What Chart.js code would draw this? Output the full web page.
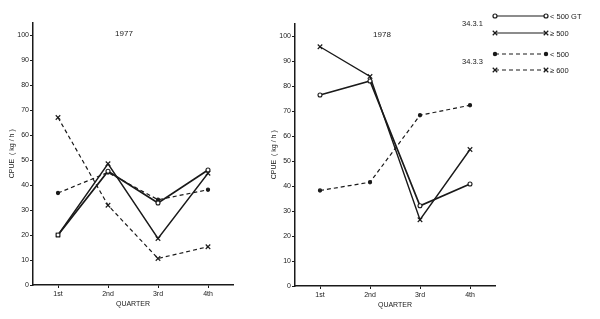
<!DOCTYPE html>
<html>
<head>
<meta charset="utf-8">
<script src="https://cdn.jsdelivr.net/npm/chart.js@4.4.1/dist/chart.umd.min.js"></script>
<style>
    html, body { margin: 0; padding: 0; background: #fff; }
    #wrap { position: relative; width: 600px; height: 319px; background: #fff; overflow: hidden; }
    #c77 { position: absolute; left: 0; top: 0; width: 250px; height: 319px; }
    #c78 { position: absolute; left: 262px; top: 0; width: 338px; height: 319px; }
</style>
</head>
<body>
<div id="wrap">
    <canvas id="c77" width="250" height="319"></canvas>
    <canvas id="c78" width="338" height="319"></canvas>
</div>
<script>
// 数据
const quarters = ['1st', '2nd', '3rd', '4th'];
const yTicks = [0, 10, 20, 30, 40, 50, 60, 70, 80, 90, 100];

// 1977
const div31Small77 = [20, 45.5, 32.8, 46];      // 34.3.1  < 500 GT
const div31Large77 = [20, 48.5, 18.6, 44.7];    // 34.3.1  >= 500
const div33Small77 = [36.8, 45, 34.1, 38.1];    // 34.3.3  < 500
const div33Large77 = [67, 31.9, 10.6, 15.3];    // 34.3.3  >= 600

// 1978
const div31Small78 = [76.4, 82, 32.1, 40.8];
const div31Large78 = [95.7, 83.8, 26.5, 54.6];
const div33Small78 = [38.2, 41.5, 68.3, 72.3];
const div33Large78 = [null, null, null, null];

const legendGroups = ['34.3.1', '34.3.3'];
const legendLabels = ['< 500 GT', '\u2265 500', '< 500', '\u2265 600'];

const INK = '#1a1a1a';
const FONT = { family: 'Liberation Sans, Arial, sans-serif', size: 7 };

// 线型：实线/虚线 + 圆点/叉
const seriesStyle = [
    { dash: [], width: 1.7, pointStyle: 'circle', radius: 2, fill: '#fff' },
    { dash: [], width: 1.4, pointStyle: 'crossRot', radius: 3.2, fill: INK },
    { dash: [4, 3], width: 1.2, pointStyle: 'circle', radius: 1.6, fill: INK },
    { dash: [4, 3], width: 1.2, pointStyle: 'crossRot', radius: 3.2, fill: INK }
];

function makeDatasets(seriesList) {
    return seriesList.map((values, i) => {
        const s = seriesStyle[i];
        return {
            label: legendLabels[i],
            data: values,
            borderColor: INK,
            borderWidth: s.width,
            borderDash: s.dash,
            pointStyle: s.pointStyle,
            pointRadius: s.radius,
            pointBorderWidth: 1.1,
            pointBorderColor: INK,
            pointBackgroundColor: s.fill,
            tension: 0,
            spanGaps: false
        };
    });
}

// 年份标签（画在图内）
const panelTitle = {
    id: 'panelTitle',
    afterDraw(chart, args, opts) {
        if (!opts.text) return;
        const ctx = chart.ctx;
        ctx.save();
        ctx.fillStyle = INK;
        ctx.font = `${opts.size || 8}px ${FONT.family}`;
        ctx.textAlign = 'center';
        ctx.textBaseline = 'middle';
        ctx.fillText(opts.text, opts.x, opts.y);
        ctx.restore();
    }
};

// 右上角图例
const groupLegend = {
    id: 'groupLegend',
    afterDraw(chart, args, opts) {
        if (!opts.display) return;
        const ctx = chart.ctx;
        ctx.save();
        ctx.strokeStyle = INK;
        ctx.fillStyle = INK;
        ctx.font = `7.5px ${FONT.family}`;
        ctx.textBaseline = 'middle';

        opts.rows.forEach((y, i) => {
            const s = seriesStyle[i];
            ctx.lineWidth = Math.min(s.width, 1.2);
            ctx.setLineDash(s.dash);
            ctx.beginPath();
            ctx.moveTo(opts.x0, y);
            ctx.lineTo(opts.x1, y);
            ctx.stroke();
            ctx.setLineDash([]);
            [opts.x0, opts.x1].forEach(x => {
                ctx.fillStyle = s.fill;
                Chart.helpers.drawPoint(ctx, {
                    pointStyle: s.pointStyle, radius: s.radius, rotation: 0, borderWidth: 1
                }, x, y);
            });
            ctx.fillStyle = INK;
            ctx.textAlign = 'left';
            ctx.fillText(legendLabels[i], opts.textX, y + 0.5);
        });

        legendGroups.forEach((g, i) => {
            ctx.textAlign = 'left';
            ctx.fillText(g, opts.groupX, opts.groupY[i]);
        });
        ctx.restore();
    }
};

function makeChart(canvasId, seriesList, cfg) {
    const canvas = document.getElementById(canvasId);
    return new Chart(canvas.getContext('2d'), {
        type: 'line',
        data: {
            labels: quarters,
            datasets: makeDatasets(seriesList)
        },
        options: {
            responsive: false,
            animation: false,
            devicePixelRatio: 1,
            layout: { padding: cfg.padding },
            plugins: {
                legend: { display: false },
                tooltip: { enabled: false },
                panelTitle: cfg.title,
                groupLegend: cfg.legend || { display: false }
            },
            scales: {
                x: {
                    type: 'category',
                    offset: true,
                    grid: { drawOnChartArea: false, tickLength: 3, color: INK, offset: false },
                    border: { color: INK, width: 1.5 },
                    ticks: { font: FONT, color: INK, padding: 2, maxRotation: 0 },
                    title: {
                        display: true, text: 'QUARTER', color: INK,
                        font: { family: FONT.family, size: 7 },
                        padding: { top: 0, bottom: cfg.xTitlePad }
                    },
                    afterFit(scale) { scale.height = cfg.xHeight; }
                },
                y: {
                    min: 0,
                    max: 105,
                    afterBuildTicks(scale) { scale.ticks = yTicks.map(v => ({ value: v })); },
                    grid: { drawOnChartArea: false, tickLength: 3, color: INK },
                    border: { color: INK, width: 1.5 },
                    ticks: { font: FONT, color: INK, padding: 1 },
                    title: {
                        display: true, text: 'CPUE  ( kg / h )', color: INK,
                        font: { family: FONT.family, size: 7 },
                        padding: { top: 7.8, bottom: 0 }
                    },
                    afterFit(scale) { scale.width = 33; }
                }
            }
        },
        plugins: [panelTitle, groupLegend]
    });
}

makeChart('c77', [div31Small77, div31Large77, div33Small77, div33Large77], {
    padding: { top: 22.5, right: 17, bottom: 0, left: 0 },
    xHeight: 34,
    xTitlePad: 10.8,
    title: { text: '1977', x: 124, y: 34, size: 8 }
});

makeChart('c78', [div31Small78, div31Large78, div33Small78, div33Large78], {
    padding: { top: 23.5, right: 105, bottom: 0, left: 0 },
    xHeight: 33,
    xTitlePad: 9.8,
    title: { text: '1978', x: 120, y: 35, size: 8 },
    legend: {
        display: true,
        x0: 233, x1: 284, textX: 288,
        rows: [16, 33, 54, 70],
        groupX: 200, groupY: [24, 62]
    }
});
</script>
</body>
</html>
